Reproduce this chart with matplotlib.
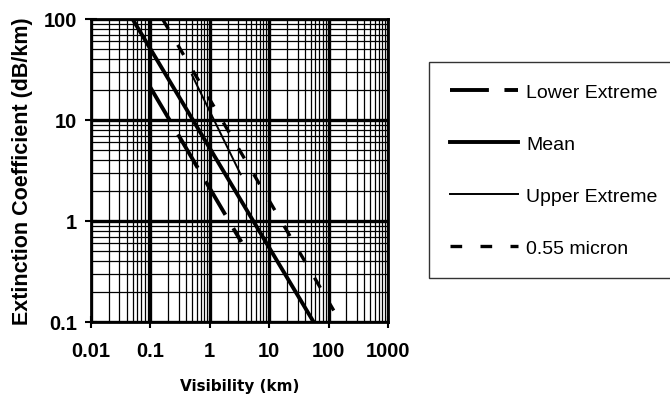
import numpy as np
import matplotlib
matplotlib.use("Agg")
import matplotlib.pyplot as plt
from matplotlib.ticker import LogLocator, FixedLocator, NullFormatter

# Data (visibility in km, extinction in dB/km)
lower_vis = [0.1, 3.4]
lower_ext = [21, 0.62]

mean_vis = [0.05, 56]
mean_ext = [100, 0.1]

upper_vis = [0.5, 3.3]
upper_ext = [28, 2.9]

micron_vis = [0.16, 122]
micron_ext = [100, 0.13]

x_ticks = [0.01, 0.1, 1, 10, 100, 1000]
x_labels = ["0.01", "0.1", "1", "10", "100", "1000"]
y_ticks = [0.1, 1, 10, 100]
y_labels = ["0.1", "1", "10", "100"]

plt.rcParams['font.family'] = ['Liberation Sans', 'DejaVu Sans']

fig = plt.figure(figsize=(6.7, 4.1), dpi=100)
ax = fig.add_axes([91/670, 1 - 323/410, (388 - 91)/670, (323 - 20)/410])

ax.set_xscale('log')
ax.set_yscale('log')
ax.set_xlim(0.01, 1000)
ax.set_ylim(0.1, 100)

# grid like the printed chart paper
ax.xaxis.set_minor_locator(LogLocator(base=10, subs=np.arange(2, 10)))
ax.yaxis.set_minor_locator(LogLocator(base=10, subs=np.arange(2, 10)))
ax.xaxis.set_minor_formatter(NullFormatter())
ax.yaxis.set_minor_formatter(NullFormatter())
ax.grid(which='major', color='black', linewidth=2.4)
ax.grid(which='minor', color='black', linewidth=0.9)
ax.set_axisbelow(True)

l1, = ax.plot(lower_vis, lower_ext, color='black', linewidth=2.8, label='Lower Extreme')
l1.set_dashes((10, 4))
l2, = ax.plot(mean_vis, mean_ext, color='black', linewidth=2.8, label='Mean')
l3, = ax.plot(upper_vis, upper_ext, color='black', linewidth=1.4, label='Upper Extreme')
l4, = ax.plot(micron_vis, micron_ext, color='black', linewidth=2.4, label='0.55 micron')
l4.set_dashes((3.5, 5.5))

ax.xaxis.set_major_locator(FixedLocator(x_ticks))
ax.yaxis.set_major_locator(FixedLocator(y_ticks))
ax.set_xticklabels(x_labels, fontsize=14.5, fontweight='bold')
ax.set_yticklabels(y_labels, fontsize=14.5, fontweight='bold')
ax.tick_params(axis='x', which='major', direction='inout', length=8, width=1.5, pad=10)
ax.tick_params(axis='y', which='major', direction='inout', length=8, width=1.5, pad=6)
ax.tick_params(which='minor', length=0)

for s in ax.spines.values():
    s.set_linewidth(2)
    s.set_color('black')

ax.set_ylabel("Extinction Coefficient (dB/km)", fontsize=15.5, fontweight='bold', labelpad=8)
ax.set_xlabel("Visibility (km)", fontsize=11, fontweight='bold', family='DejaVu Sans', labelpad=13)

leg = fig.legend(handles=[l1, l2, l3, l4], loc='upper left',
                 bbox_to_anchor=(429/670, 1 - 63/410), frameon=True, fancybox=False,
                 fontsize=14, handlelength=3.5, labelspacing=1.77, borderpad=1.1,
                 handletextpad=0.4, borderaxespad=0)
leg.get_frame().set_edgecolor('black')
leg.get_frame().set_linewidth(1.0)

fig.savefig("out.png", dpi=100)
